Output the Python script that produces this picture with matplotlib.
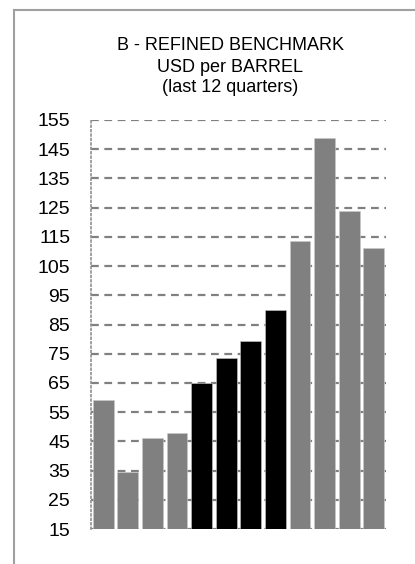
import matplotlib.pyplot as plt
from matplotlib.patches import Rectangle

# data
quarters = list(range(1, 13))
prices = [59, 34.5, 46, 48, 65, 73.7, 79.5, 90, 113.7, 148.7, 124, 111.3]
bar_colors = ['#808080'] * 4 + ['#000000'] * 4 + ['#808080'] * 4
yticks = list(range(15, 156, 10))
title_lines = ['B - REFINED BENCHMARK', 'USD per BARREL', '(last 12 quarters)']

plt.rcParams['font.family'] = ['Liberation Sans Narrow', 'Liberation Sans', 'DejaVu Sans']

fig = plt.figure(figsize=(4.15, 5.64), dpi=100)
W, H = 415, 564

# outer frame (runs off right/bottom edge)
fig.patches.append(Rectangle((14 / W, -0.05), 1.2, 1 - 10 / H + 0.05,
                             transform=fig.transFigure, fill=False,
                             edgecolor='#a0a0a0', linewidth=1.5))

ax = fig.add_axes([91 / W, 1 - 529 / H, 295 / W, (529 - 120) / H])
x = range(len(quarters))
ax.bar(x, prices, width=0.85, color=bar_colors, edgecolor='#c8c8c8',
       linewidth=0.4, zorder=3)

ax.set_xlim(-0.5, len(quarters) - 0.5)
ax.set_ylim(15, 155)
ax.set_yticks(yticks)
ax.set_yticklabels([str(t) for t in yticks], fontsize=14)
ax.set_xticks([])
ax.tick_params(axis='y', length=0, pad=15)

for t in yticks:
    ax.axhline(t, color='#808080', linestyle=(0, (3.5, 2.5)), linewidth=1.6,
               zorder=1)

for s in ['top', 'right', 'bottom']:
    ax.spines[s].set_visible(False)
ax.spines['left'].set_color('#909090')
ax.spines['left'].set_linestyle(':')
ax.spines['left'].set_linewidth(1.2)

for i, line in enumerate(title_lines):
    fig.text(230 / W, 1 - (46 + i * 21) / H, line, ha='center', va='center',
             fontsize=13)

fig.savefig('out.png', dpi=100)
